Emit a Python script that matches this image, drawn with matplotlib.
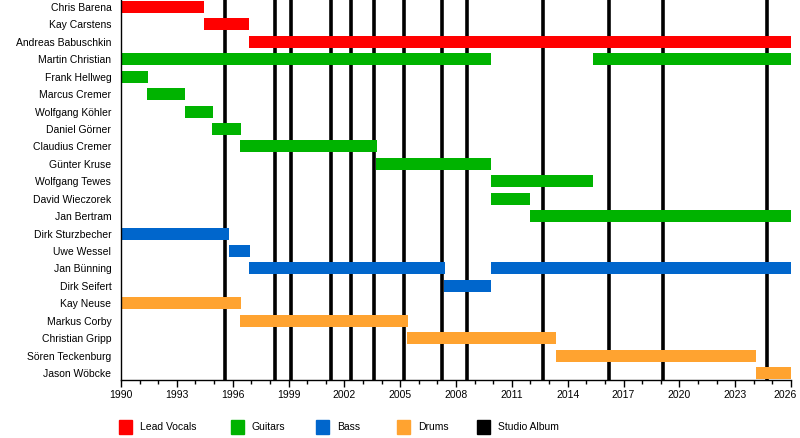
import matplotlib
matplotlib.use("Agg")
import matplotlib.pyplot as plt
import matplotlib.transforms as mtransforms
from matplotlib.patches import Rectangle
from matplotlib.ticker import MultipleLocator

plt.rcParams['font.family'] = ['Liberation Sans Narrow', 'Liberation Sans', 'DejaVu Sans']

members = ["Chris Barena", "Kay Carstens", "Andreas Babuschkin", "Martin Christian",
           "Frank Hellweg", "Marcus Cremer", "Wolfgang Köhler", "Daniel Görner",
           "Claudius Cremer", "Günter Kruse", "Wolfgang Tewes", "David Wieczorek",
           "Jan Bertram", "Dirk Sturzbecher", "Uwe Wessel", "Jan Bünning",
           "Dirk Seifert", "Kay Neuse", "Markus Corby", "Christian Gripp",
           "Sören Teckenburg", "Jason Wöbcke"]

span_member = ["Chris Barena", "Kay Carstens", "Andreas Babuschkin",
               "Martin Christian", "Martin Christian",
               "Frank Hellweg", "Marcus Cremer", "Wolfgang Köhler", "Daniel Görner",
               "Claudius Cremer", "Günter Kruse", "Wolfgang Tewes", "David Wieczorek",
               "Jan Bertram", "Dirk Sturzbecher", "Uwe Wessel",
               "Jan Bünning", "Jan Bünning", "Dirk Seifert",
               "Kay Neuse", "Markus Corby", "Christian Gripp",
               "Sören Teckenburg", "Jason Wöbcke"]
span_role = ["Lead Vocals", "Lead Vocals", "Lead Vocals",
             "Guitars", "Guitars",
             "Guitars", "Guitars", "Guitars", "Guitars",
             "Guitars", "Guitars", "Guitars", "Guitars",
             "Guitars", "Bass", "Bass",
             "Bass", "Bass", "Bass",
             "Drums", "Drums", "Drums",
             "Drums", "Drums"]
span_start = [1990.0, 1994.45, 1996.9,
              1990.0, 2015.35,
              1990.0, 1991.42, 1993.42, 1994.9,
              1996.42, 2003.72, 2009.87, 2009.87,
              2011.95, 1990.0, 1995.78,
              1996.9, 2009.87, 2007.38,
              1990.0, 1996.42, 2005.38,
              2013.35, 2024.1]
span_end = [1994.45, 1996.9, 2026.0,
            2009.87, 2026.0,
            1991.45, 1993.45, 1994.93, 1996.44,
            2003.75, 2009.87, 2015.38, 2011.98,
            2026.0, 1995.8, 1996.95,
            2007.4, 2026.0, 2009.87,
            1996.44, 2005.4, 2013.38,
            2024.12, 2026.0]

albums = [1995.6, 1998.3, 1999.15, 2001.3, 2002.38, 2003.62, 2005.2,
          2007.25, 2008.6, 2012.7, 2016.2, 2019.1, 2024.7]

roles = ["Lead Vocals", "Guitars", "Bass", "Drums", "Studio Album"]
role_colors = ["#FF0000", "#00B300", "#0066CC", "#FFA330", "#000000"]

tick_years = list(range(1990, 2027, 3))

fig = plt.figure(figsize=(8, 4.38), dpi=100)
ax = fig.add_axes([121 / 800, 1 - 380 / 438, 670 / 800, 380 / 438])

color_of = dict(zip(roles, role_colors))
row_of = {m: i for i, m in enumerate(members)}

for a in albums:
    ax.axvline(a, color=color_of["Studio Album"], lw=2.6, zorder=1)

for m, r, s, e in zip(span_member, span_role, span_start, span_end):
    ax.barh(row_of[m], e - s, left=s, height=0.69, color=color_of[r], zorder=2,
            linewidth=0)

fs = 7.5
ax.set_xlim(1990, 2026)
ax.set_ylim(len(members) - 1 + 0.4, -0.4)
ax.set_yticks(range(len(members)))
ax.set_yticklabels(members, fontsize=fs)
ax.tick_params(axis='y', length=0, pad=7)
ax.set_xticks(tick_years)
ax.set_xticklabels([str(y) for y in tick_years], fontsize=fs)
ax.xaxis.set_minor_locator(MultipleLocator(1))
ax.tick_params(axis='x', which='major', length=5, width=1, direction='out', pad=2)
ax.tick_params(axis='x', which='minor', length=3, width=1, direction='out')
for side in ["top", "right"]:
    ax.spines[side].set_visible(False)
ax.spines["left"].set_linewidth(1)
ax.spines["bottom"].set_linewidth(1)

# keep the last year label inside the canvas
last = ax.get_xticklabels()[-1]
last.set_transform(last.get_transform() +
                   mtransforms.ScaledTranslation(-6 / 100, 0, fig.dpi_scale_trans))

# legend
leg_x = [119, 231, 316, 397, 477]
for x, r, c in zip(leg_x, roles, role_colors):
    fig.patches.append(Rectangle((x / 800, 1 - 434 / 438), 13 / 800, 14 / 438,
                                 transform=fig.transFigure, color=c))
    fig.text((x + 21) / 800, 1 - 427 / 438, r, fontsize=fs, va='center', ha='left')

fig.savefig("out.png", dpi=100)
